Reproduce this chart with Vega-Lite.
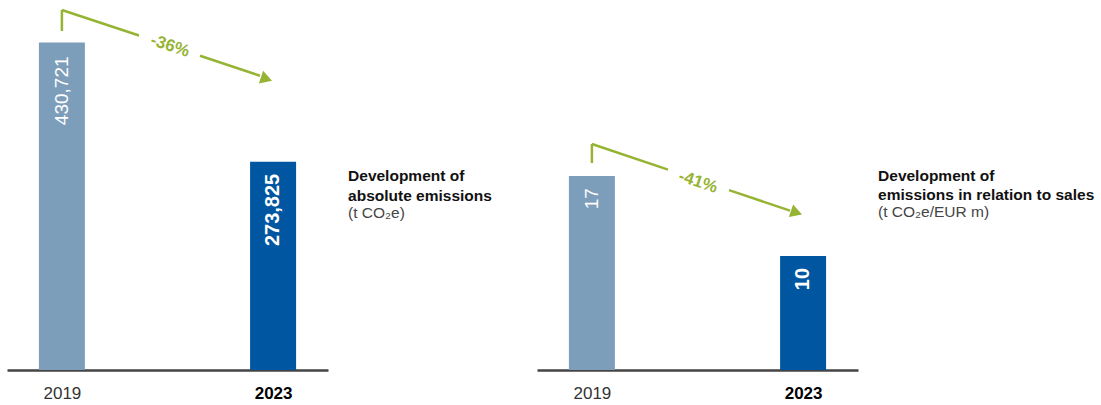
{
  "$schema": "https://vega.github.io/schema/vega-lite/v6.json",
  "background": "white",
  "padding": {"left": 7, "top": 5, "right": 0, "bottom": 0},
  "bounds": "flush",
  "spacing": 209,
  "config": {
    "view": {"stroke": null},
    "font": "Liberation Sans"
  },
  "hconcat": [
    {
      "width": 321,
      "height": 365,
      "data": {"values": [{"year": 2019, "value": 430721}, {"year": 2023, "value": 273825}]},
      "encoding": {
        "x": {"field": "year", "type": "quantitative", "title": null, "scale": {"domain": [2017.96, 2024.04], "nice": false, "zero": false, "padding": 0},
          "axis": {
            "values": [2019, 2023],
            "format": "d",
            "grid": false,
            "ticks": false,
            "tickSize": 0,
            "domainColor": "#444444",
            "domainWidth": 2.5,
            "labelFont": "Liberation Sans",
            "labelFontSize": 17,
            "labelPadding": 15,
            "labelColor": {"condition": {"test": "datum.value == 2023", "value": "#000000"}, "value": "#333333"},
            "labelFontWeight": {"condition": {"test": "datum.value == 2023", "value": "bold"}, "value": "normal"}
          }},
        "y": {"field": "value", "type": "quantitative", "title": null, "axis": null, "scale": {"domain": [0, 480000], "nice": false, "padding": 0}}
      },
      "layer": [
        {
          "mark": {"type": "bar", "width": 46, "orient": "vertical"},
          "encoding": {"color": {"field": "year", "type": "nominal", "legend": null, "scale": {"domain": [2019, 2023], "range": ["#7d9eba", "#0056a0"]}}}
        },
        {
          "transform": [{"filter": "datum.year == 2019"}],
          "mark": {"type": "text", "angle": 270, "align": "right", "baseline": "middle", "dx": -14, "fontSize": 19, "color": "white"},
          "encoding": {"text": {"field": "value", "type": "quantitative", "format": ","}}
        },
        {
          "transform": [{"filter": "datum.year == 2023"}],
          "mark": {"type": "text", "angle": 270, "align": "right", "baseline": "middle", "dx": -12, "fontSize": 20, "fontWeight": "bold", "color": "white"},
          "encoding": {"text": {"field": "value", "type": "quantitative", "format": ","}}
        },
        {
          "data": {"values": [
            {"x": 2019, "y": 445808, "x2": 2019, "y2": 473425},
            {"x": 2019, "y": 473425, "x2": 2020.46, "y2": 439890},
            {"x": 2021.616, "y": 413200, "x2": 2022.752, "y2": 387030}
          ]},
          "mark": {"type": "rule", "color": "#96b334", "strokeWidth": 2.5},
          "encoding": {
            "x": {"field": "x", "type": "quantitative", "title": null},
            "x2": {"field": "x2"},
            "y": {"field": "y", "type": "quantitative", "title": null, "axis": null},
            "y2": {"field": "y2"}
          }
        },
        {
          "data": {"values": [{"x": 2022.875, "y": 382685}]},
          "mark": {"type": "point", "shape": "triangle-right", "filled": true, "size": 180, "angle": 18.5, "color": "#96b334", "opacity": 1},
          "encoding": {
            "x": {"field": "x", "type": "quantitative", "title": null},
            "y": {"field": "y", "type": "quantitative", "title": null, "axis": null}
          }
        },
        {
          "data": {"values": [{"x": 2021.047, "y": 426082, "label": "-36%"}]},
          "mark": {"type": "text", "angle": 18.5, "align": "center", "baseline": "middle", "fontSize": 17, "fontWeight": "bold", "color": "#96b334"},
          "encoding": {
            "x": {"field": "x", "type": "quantitative", "title": null},
            "y": {"field": "y", "type": "quantitative", "title": null, "axis": null},
            "text": {"field": "label"}
          }
        },
        {
          "data": {"values": [{"x": 2024.42, "y": 255123}]},
          "mark": {"type": "text", "align": "left", "baseline": "middle", "fontSize": 15.5, "fontWeight": "bold", "color": "#111111", "lineHeight": 19.5, "text": ["Development of", "absolute emissions"]},
          "encoding": {
            "x": {"field": "x", "type": "quantitative", "title": null},
            "y": {"field": "y", "type": "quantitative", "title": null, "axis": null}
          }
        },
        {
          "data": {"values": [{"x": 2024.42, "y": 207123}]},
          "mark": {"type": "text", "align": "left", "baseline": "middle", "fontSize": 15.5, "color": "#444444", "text": "(t CO₂e)"},
          "encoding": {
            "x": {"field": "x", "type": "quantitative", "title": null},
            "y": {"field": "y", "type": "quantitative", "title": null, "axis": null}
          }
        }
      ]
    },
    {
      "width": 321,
      "height": 365,
      "data": {"values": [{"year": 2019, "value": 17}, {"year": 2023, "value": 10}]},
      "encoding": {
        "x": {"field": "year", "type": "quantitative", "title": null, "scale": {"domain": [2017.96, 2024.04], "nice": false, "zero": false, "padding": 0},
          "axis": {
            "values": [2019, 2023],
            "format": "d",
            "grid": false,
            "ticks": false,
            "tickSize": 0,
            "domainColor": "#444444",
            "domainWidth": 2.5,
            "labelFont": "Liberation Sans",
            "labelFontSize": 17,
            "labelPadding": 15,
            "labelColor": {"condition": {"test": "datum.value == 2023", "value": "#000000"}, "value": "#333333"},
            "labelFontWeight": {"condition": {"test": "datum.value == 2023", "value": "bold"}, "value": "normal"}
          }},
        "y": {"field": "value", "type": "quantitative", "title": null, "axis": null, "scale": {"domain": [0, 32], "nice": false, "padding": 0}}
      },
      "layer": [
        {
          "mark": {"type": "bar", "width": 46, "orient": "vertical"},
          "encoding": {"color": {"field": "year", "type": "nominal", "legend": null, "scale": {"domain": [2019, 2023], "range": ["#7d9eba", "#0056a0"]}}}
        },
        {
          "transform": [{"filter": "datum.year == 2019"}],
          "mark": {"type": "text", "angle": 270, "align": "right", "baseline": "middle", "dx": -12, "fontSize": 19, "color": "white"},
          "encoding": {"text": {"field": "value", "type": "quantitative", "format": "d"}}
        },
        {
          "transform": [{"filter": "datum.year == 2023"}],
          "mark": {"type": "text", "angle": 270, "align": "right", "baseline": "middle", "dx": -12, "fontSize": 20, "fontWeight": "bold", "color": "white"},
          "encoding": {"text": {"field": "value", "type": "quantitative", "format": "d"}}
        },
        {
          "data": {"values": [
            {"x": 2019, "y": 18.15, "x2": 2019, "y2": 19.81},
            {"x": 2019, "y": 19.81, "x2": 2020.441, "y2": 17.57},
            {"x": 2021.597, "y": 15.77, "x2": 2022.752, "y2": 13.97}
          ]},
          "mark": {"type": "rule", "color": "#96b334", "strokeWidth": 2.5},
          "encoding": {
            "x": {"field": "x", "type": "quantitative", "title": null},
            "x2": {"field": "x2"},
            "y": {"field": "y", "type": "quantitative", "title": null, "axis": null},
            "y2": {"field": "y2"}
          }
        },
        {
          "data": {"values": [{"x": 2022.875, "y": 13.8}]},
          "mark": {"type": "point", "shape": "triangle-right", "filled": true, "size": 180, "angle": 18.5, "color": "#96b334", "opacity": 1},
          "encoding": {
            "x": {"field": "x", "type": "quantitative", "title": null},
            "y": {"field": "y", "type": "quantitative", "title": null, "axis": null}
          }
        },
        {
          "data": {"values": [{"x": 2021.01, "y": 16.48, "label": "-41%"}]},
          "mark": {"type": "text", "angle": 18.5, "align": "center", "baseline": "middle", "fontSize": 17, "fontWeight": "bold", "color": "#96b334"},
          "encoding": {
            "x": {"field": "x", "type": "quantitative", "title": null},
            "y": {"field": "y", "type": "quantitative", "title": null, "axis": null},
            "text": {"field": "label"}
          }
        },
        {
          "data": {"values": [{"x": 2024.42, "y": 17.05}]},
          "mark": {"type": "text", "align": "left", "baseline": "middle", "fontSize": 15.5, "fontWeight": "bold", "color": "#111111", "lineHeight": 19.5, "text": ["Development of", "emissions in relation to sales"]},
          "encoding": {
            "x": {"field": "x", "type": "quantitative", "title": null},
            "y": {"field": "y", "type": "quantitative", "title": null, "axis": null}
          }
        },
        {
          "data": {"values": [{"x": 2024.42, "y": 13.81}]},
          "mark": {"type": "text", "align": "left", "baseline": "middle", "fontSize": 15.5, "color": "#444444", "text": "(t CO₂e/EUR m)"},
          "encoding": {
            "x": {"field": "x", "type": "quantitative", "title": null},
            "y": {"field": "y", "type": "quantitative", "title": null, "axis": null}
          }
        }
      ]
    }
  ]
}
